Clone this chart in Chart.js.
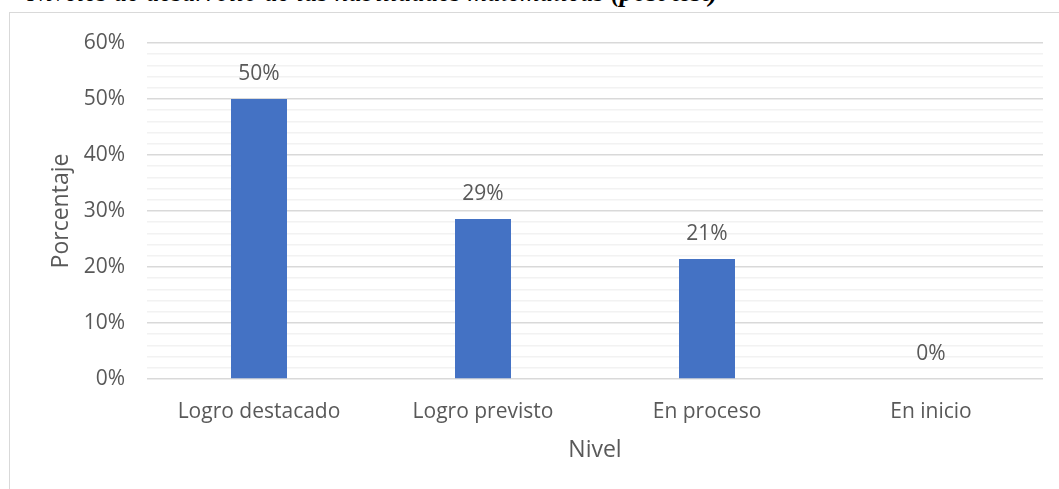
<!DOCTYPE html>
<html>
<head>
<meta charset="utf-8">
<script src="https://cdn.jsdelivr.net/npm/chart.js@4"></script>
<style>
    html, body { margin: 0; padding: 0; background: #fff; overflow: hidden; }
    body { width: 1059px; height: 489px; position: relative; }
    .caption {
        position: absolute; left: 0; top: -23px; width: 718px;
        text-align: right; white-space: nowrap;
        font: italic 27px "Liberation Serif", "Times New Roman", serif; color: #000;
    }
    .frame {
        position: absolute; left: 9px; top: 12px; width: 1100px; height: 600px;
        border: 1px solid #d9d9d9; box-sizing: border-box;
    }
    #wrap { position: absolute; left: 0; top: 0; width: 1059px; height: 489px; }
</style>
</head>
<body>
<div class="caption">Niveles de desarrollo de las habilidades matemáticas <b>(post test)</b></div>
<div class="frame"></div>
<div id="wrap"><canvas id="nivelChart"></canvas></div>
<script>
const categories = ['Logro destacado', 'Logro previsto', 'En proceso', 'En inicio'];
const percentages = [50, 28.57, 21.43, 0];
const yTicks = [0, 10, 20, 30, 40, 50, 60];

const textColor = '#595959';
const fontFamily = '"Open Sans", "Noto Sans", sans-serif';

// value labels above each bar
const barLabels = {
    id: 'barLabels',
    afterDatasetsDraw(chart) {
        const ctx = chart.ctx;
        const meta = chart.getDatasetMeta(0);
        ctx.save();
        ctx.fillStyle = textColor;
        ctx.font = '21px ' + fontFamily;
        ctx.textAlign = 'center';
        ctx.textBaseline = 'middle';
        meta.data.forEach((bar, i) => {
            ctx.fillText(Math.round(percentages[i]) + '%', bar.x, bar.y - 25);
        });
        ctx.restore();
    }
};

const isMajor = v => yTicks.includes(Math.round(v));

new Chart(document.getElementById('nivelChart').getContext('2d'), {
    type: 'bar',
    data: {
        labels: categories,
        datasets: [{
            data: percentages,
            backgroundColor: '#4472c4',
            borderWidth: 0,
            barPercentage: 0.25,
            categoryPercentage: 1.0
        }]
    },
    options: {
        responsive: true,
        maintainAspectRatio: false,
        animation: false,
        layout: { padding: { top: 43, right: 16, left: 38, bottom: 25 } },
        plugins: { legend: { display: false }, tooltip: { enabled: false } },
        scales: {
            y: {
                min: 0,
                max: yTicks[yTicks.length - 1],
                afterFit: s => { s.width = 109; },
                border: { display: false },
                grid: {
                    drawTicks: false,
                    color: c => (isMajor(c.tick.value) ? '#d9d9d9' : '#f2f2f2'),
                    lineWidth: 1.5
                },
                ticks: {
                    stepSize: 2,
                    autoSkip: false,
                    padding: 22,
                    color: textColor,
                    font: { family: fontFamily, size: 21 },
                    callback: v => (isMajor(v) ? Math.round(v) + '%' : '')
                },
                title: {
                    display: true,
                    text: 'Porcentaje',
                    color: textColor,
                    font: { family: fontFamily, size: 23 },
                    padding: { top: 10, bottom: 0 }
                }
            },
            x: {
                afterFit: s => { s.height = 85; },
                border: { display: false },
                grid: { display: false, drawTicks: false },
                ticks: {
                    padding: 20,
                    color: textColor,
                    font: { family: fontFamily, size: 21 }
                },
                title: {
                    display: true,
                    text: 'Nivel',
                    color: textColor,
                    font: { family: fontFamily, size: 23 },
                    padding: { top: 0, bottom: 0 }
                }
            }
        }
    },
    plugins: [barLabels]
});
</script>
</body>
</html>
